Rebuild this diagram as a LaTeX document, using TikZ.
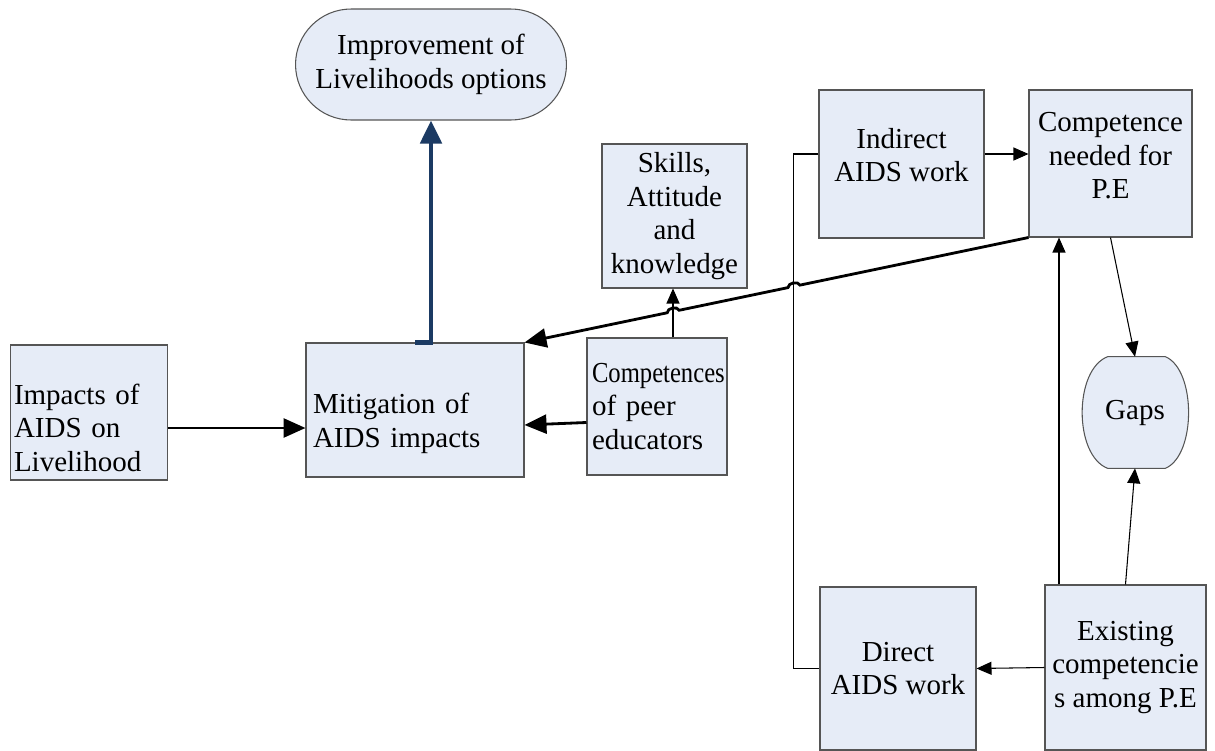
\documentclass[tikz,border=0pt]{standalone}
\usepackage{fontspec}
\setmainfont{Liberation Serif}
\usetikzlibrary{arrows.meta,calc,shapes.misc,backgrounds}
\definecolor{boxfill}{HTML}{E6ECF7}
\definecolor{boxedge}{HTML}{555555}
\definecolor{navyline}{HTML}{1B3A63}

\begin{document}
\begin{tikzpicture}[
        x=0.02cm, y=-0.02cm,
        font=\fontsize{16.5}{19}\selectfont,
        box/.style={draw=boxedge, fill=boxfill, line width=0.6pt,
                    inner sep=2pt, align=center},
        leftbox/.style={box, align=left},
        txtdown/.style={execute at begin node={\rule{0pt}{#1}}},
        txtup/.style={execute at end node={\rule[-#1]{0pt}{#1}}},
        thinarr/.style={draw=black, line width=0.6pt,
                    -{Triangle[length=3mm, width=2.6mm]}},
        thickarr/.style={draw=black, line width=1.6pt,
                    -{Triangle[length=4.4mm, width=3.8mm]}},
        navyarr/.style={draw=navyline, line width=2.8pt,
                    -{Triangle[length=4.6mm, width=4.2mm]}},
    ]
        \useasboundingbox (0,0) rectangle (1215,751);
        % Left part: impacts, mitigation, outcome.
        \node[box, rounded rectangle, minimum width=5.56cm, minimum height=2.22cm]
            (impr) at (431,64.5) {Improvement of\\Livelihoods options};
        \node[leftbox, txtdown=29pt, minimum width=3.08cm, minimum height=2.7cm,
              text width=3.0cm] (impacts) at (89,412.5)
            {Impacts of\\AIDS on\\Livelihood};
        \node[leftbox, txtdown=27pt, minimum width=4.36cm, minimum height=2.68cm,
              text width=4.08cm] (mit) at (415,410) {Mitigation of\\AIDS impacts};
        \node[leftbox, minimum width=2.8cm, minimum height=2.74cm, text width=2.6cm]
            (comp) at (657,406.5)
            {\scalebox{0.85}[1]{Competences}\\of peer\\educators};
        \node[box, minimum width=2.9cm, minimum height=2.88cm]
            (skills) at (674.5,216) {Skills,\\Attitude\\and\\knowledge};
        % Right part: kinds of work, competences, gaps.
        \node[box, txtup=10pt, minimum width=3.3cm, minimum height=2.96cm]
            (indir) at (901.5,164) {Indirect\\AIDS work};
        \node[box, txtup=9pt, minimum width=3.26cm, minimum height=2.94cm]
            (cneed) at (1110.5,163.5) {Competence\\needed for\\P.E};
        \node[minimum width=2.12cm, minimum height=2.22cm, inner sep=0pt]
            (gaps) at (1135,412.5) {Gaps};
        \node[box, minimum width=3.12cm, minimum height=3.26cm]
            (direct) at (898,668.5) {Direct\\AIDS work};
        \node[box, minimum width=3.22cm, minimum height=3.3cm]
            (exist) at (1125.5,667.5) {Existing\\competencie\\s among P.E};
        \begin{scope}[on background layer]
            \draw[draw=boxedge, fill=boxfill, line width=0.6pt]
                ([xshift=0.52cm]gaps.north west) -- ([xshift=-0.46cm]gaps.north east)
                .. controls ([xshift=0.16cm,yshift=-0.26cm]gaps.north east)
                and ([xshift=0.16cm,yshift=0.26cm]gaps.south east)
                .. ([xshift=-0.46cm]gaps.south east)
                -- ([xshift=0.52cm]gaps.south west)
                .. controls ([xshift=-0.16cm,yshift=0.26cm]gaps.south west)
                and ([xshift=-0.16cm,yshift=-0.26cm]gaps.north west) .. cycle;
        \end{scope}
        % Connectors.
        \draw[thickarr] ([yshift=-0.31cm]impacts.east)
            -- ([yshift=-0.31cm]impacts.east -| mit.west);
        \draw[thickarr] ([yshift=-0.32cm]comp.west) -- ([yshift=-0.3cm]mit.east);
        \draw[thinarr] ([xshift=0.32cm]comp.north)
            -- ([xshift=0.32cm]comp.north |- skills.south);
        \draw[navyarr] (mit.north) -| (impr.south);
        \draw[thickarr] (cneed.south west)
            -- ($(cneed.south west)!0.4534!(mit.north east)$)
            to[bend right=80] ($(cneed.south west)!0.4772!(mit.north east)$)
            -- ($(cneed.south west)!0.6931!(mit.north east)$)
            to[bend right=80] ($(cneed.south west)!0.7169!(mit.north east)$)
            -- (mit.north east);
        \draw[draw=black, line width=0.6pt] ([yshift=0.2cm]indir.west)
            -- ++(-0.5cm,0) |- (direct.west);
        \draw[thinarr] ([yshift=0.2cm]indir.east)
            -- ([yshift=0.2cm]indir.east -| cneed.west);
        \draw[thinarr] (cneed.south) -- (gaps.north);
        \draw[thinarr] ([xshift=-1.33cm]exist.north)
            -- ([xshift=-1.33cm]exist.north |- cneed.south);
        \draw[thinarr] (exist.north) -- (gaps.south);
        \draw[thinarr] (exist.west) -- (direct.east);
    \end{tikzpicture}
\end{document}
